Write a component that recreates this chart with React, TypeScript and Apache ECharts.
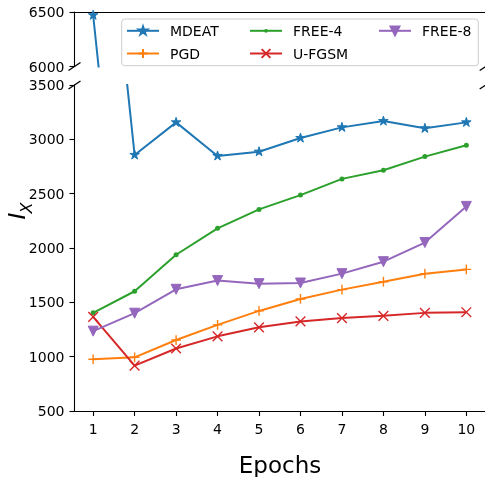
import { useEffect, useRef } from "react";
import * as echarts from "echarts";

const epochs = [1, 2, 3, 4, 5, 6, 7, 8, 9, 10];
const mdeat = [6470, 2856, 3156, 2847, 2886, 3012, 3110, 3168, 3101, 3156];
const pgd = [976, 994, 1153, 1293, 1421, 1531, 1617, 1690, 1764, 1803];
const free4 = [1403, 1602, 1938, 2181, 2355, 2487, 2636, 2716, 2841, 2945];
const ufgsm = [1366, 918, 1075, 1187, 1270, 1324, 1355, 1376, 1403, 1409];
const free8 = [1235, 1400, 1620, 1700, 1672, 1678, 1764, 1874, 2050, 2383];

const topRange = [6000, 6500];
const bottomRange = [500, 3500];
const tickStep = 500;

const colors = {
  MDEAT: "#1f77b4",
  PGD: "#ff7f0e",
  "FREE-4": "#2ca02c",
  "U-FGSM": "#d62728",
  "FREE-8": "#9467bd",
};

const STAR =
  "path://M-1,-1M1,1M0,-1L0.2245,-0.309L0.9511,-0.309L0.3633,0.118L0.5878,0.809L0,0.382L-0.5878,0.809L-0.3633,0.118L-0.9511,-0.309L-0.2245,-0.309Z";
const TRI_DOWN = "path://M-1,-1L1,-1L0,1Z";
const PLUS = "path://M-1,0L1,0M0,-1L0,1";
const CROSS = "path://M-1,-1L1,1M1,-1L-1,1";
const DOT = "path://M0,0M12,12M6,3.5A2.5,2.5,0,1,1,6,8.5A2.5,2.5,0,1,1,6,3.5Z";

export default function App() {
  const ref = useRef<HTMLDivElement>(null);
  useEffect(() => {
    const chart = echarts.init(ref.current!, null, { renderer: "svg" });
    const font = "DejaVu Sans";
    const pairs = (vals: number[]) => epochs.map((e, i) => [e, vals[i]]);
    const mk = (
      name: string,
      vals: number[],
      axis: number,
      symbol: string,
      size: number,
      stroke: boolean,
      z: number
    ) => ({
      type: "line",
      name,
      xAxisIndex: axis,
      yAxisIndex: axis,
      data: pairs(vals),
      clip: true,
      symbol,
      symbolSize: size,
      showAllSymbol: true,
      z,
      lineStyle: { width: 2, color: (colors as any)[name] },
      itemStyle: {
        color: stroke ? "none" : (colors as any)[name],
        borderColor: (colors as any)[name],
        borderWidth: stroke ? 1.4 : symbol === DOT ? 0 : 1,
      },
      emphasis: { disabled: true },
    });

    const axisLine = { show: true, lineStyle: { color: "#000", width: 1.1 } };
    const axisTick = { show: true, length: 5, lineStyle: { color: "#000", width: 1.1 } };
    const label = { color: "#000", fontSize: 14, fontFamily: font };
    const plain = (v: number) => String(v);

    const legendCommon = {
      orient: "vertical",
      top: 23.8,
      itemWidth: 32,
      itemHeight: 11,
      itemGap: 8.7,
      padding: 0,
      selectedMode: false,
      textStyle: { ...label, padding: [0, 0, 0, 6] },
    };

    const option: any = {
      animation: false,
      color: Object.values(colors),
      grid: [
        { left: 74.5, width: 411.2, top: 12, height: 54.5 },
        { left: 74.5, width: 411.2, top: 85, height: 326 },
      ],
      xAxis: [
        {
          type: "value",
          gridIndex: 0,
          position: "top",
          min: 0.55,
          max: 10.45,
          axisLine,
          axisTick: { show: false },
          axisLabel: { show: false },
          splitLine: { show: false },
        },
        {
          type: "value",
          gridIndex: 1,
          min: 0.55,
          max: 10.45,
          axisLine,
          axisTick: { ...axisTick, customValues: epochs },
          axisLabel: { ...label, margin: 11, customValues: epochs },
          splitLine: { show: false },
        },
      ],
      yAxis: [
        {
          type: "value",
          gridIndex: 0,
          min: topRange[0],
          max: topRange[1],
          interval: tickStep,
          axisLine,
          axisTick,
          axisLabel: { ...label, margin: 10, formatter: plain },
          splitLine: { show: false },
        },
        {
          type: "value",
          gridIndex: 1,
          min: bottomRange[0],
          max: bottomRange[1],
          interval: tickStep,
          axisLine,
          axisTick,
          axisLabel: { ...label, margin: 10, formatter: plain },
          splitLine: { show: false },
        },
      ],
      legend: [
        { ...legendCommon, left: 126, data: ["MDEAT", "PGD"] },
        { ...legendCommon, left: 249, data: ["FREE-4", "U-FGSM"] },
        { ...legendCommon, left: 378, data: ["FREE-8"] },
      ],
      series: [
        mk("MDEAT", mdeat, 0, STAR, 10, false, 2),
        mk("MDEAT", mdeat, 1, STAR, 10, false, 2),
        mk("PGD", pgd, 1, PLUS, 9.7, true, 3),
        mk("FREE-4", free4, 1, DOT, 12, false, 4),
        mk("U-FGSM", ufgsm, 1, CROSS, 9.7, true, 5),
        mk("FREE-8", free8, 1, TRI_DOWN, 10, false, 6),
      ],
      graphic: [
        {
          type: "rect",
          z: 3,
          shape: { x: 121.7, y: 19, width: 356.6, height: 46.7, r: 3 },
          style: { fill: "rgba(255,255,255,0.8)", stroke: "#cccccc", lineWidth: 1 },
        },
        ...[
          [74.5, 66.5],
          [74.5, 85],
          [485.7, 66.5],
          [485.7, 85],
        ].map(([cx, cy]) => ({
          type: "line",
          z: 10,
          shape: { x1: cx - 6, y1: cy + 4, x2: cx + 6, y2: cy - 4 },
          style: { stroke: "#000", lineWidth: 1.3 },
        })),
        {
          type: "group",
          x: 18,
          y: 212,
          rotation: Math.PI / 2,
          children: [
            {
              type: "text",
              x: -4,
              y: -1.5,
              style: {
                text: "I",
                fontSize: 23,
                fontStyle: "italic",
                fontFamily: font,
                fill: "#000",
                align: "center",
                verticalAlign: "middle",
              },
            },
            {
              type: "text",
              x: 4,
              y: 8,
              style: {
                text: "X",
                fontSize: 16,
                fontStyle: "italic",
                fontFamily: font,
                fill: "#000",
                align: "center",
                verticalAlign: "middle",
              },
            },
          ],
        },
        {
          type: "text",
          x: 280,
          y: 465,
          style: {
            text: "Epochs",
            fontSize: 23,
            fontFamily: font,
            fill: "#000",
            align: "center",
            verticalAlign: "middle",
          },
        },
      ],
    };
    chart.setOption(option);
    return () => chart.dispose();
  }, []);
  return (
    <div
      ref={ref}
      style={{ position: "fixed", left: 0, top: 0, width: 485, height: 477 }}
    />
  );
}
